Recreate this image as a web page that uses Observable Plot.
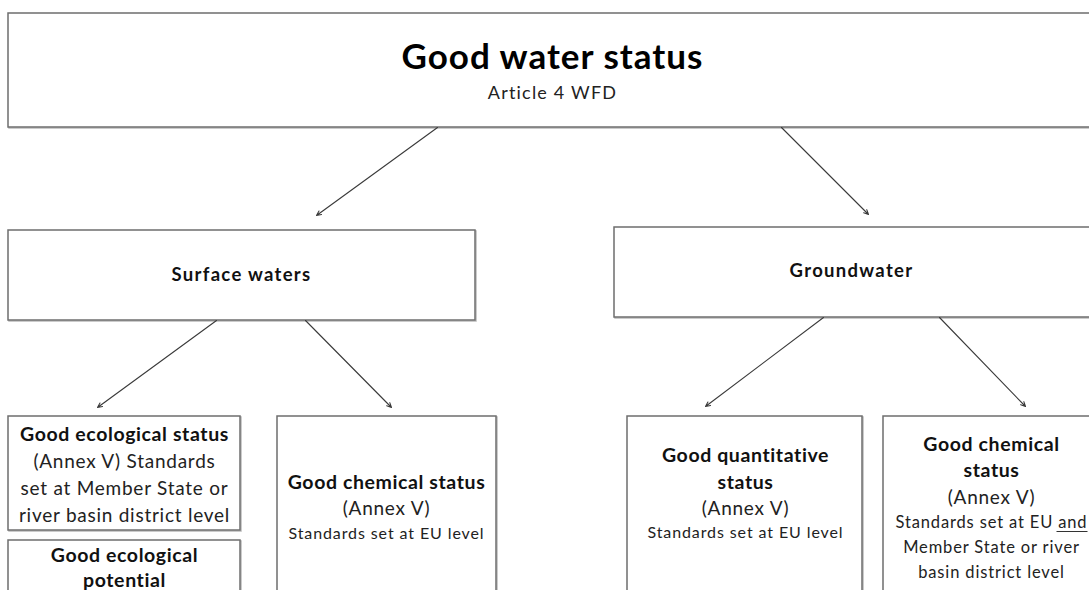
<!DOCTYPE html>
<html><head><meta charset="utf-8">
<script src="https://cdn.jsdelivr.net/npm/d3@7"></script>
<script src="https://cdn.jsdelivr.net/npm/@observablehq/plot@0.6"></script>
<style>
body{margin:0;background:#fff;overflow:hidden}
.t-title text{letter-spacing:1px}
.t-subtitle text{letter-spacing:1.2px}
.t-head text{letter-spacing:1.3px}
.t-bold text{letter-spacing:0.6px}
.t-normal text{letter-spacing:0.75px}
.t-small text{letter-spacing:0.9px}
.t-mid text{letter-spacing:0.85px}
</style>
</head><body><div id="chart"></div>
<script>
// Boxes of the diagram (diagram units = pixels of the reference)
const boxNames  = ["Good water status","Surface waters","Groundwater","Good ecological status","Good ecological potential","Good chemical status (surface)","Good quantitative status","Good chemical status (groundwater)"];
const boxLeft   = [8, 8, 614, 8, 8, 277, 627, 883];
const boxRight  = [1100, 475, 1100, 240, 240, 496, 862, 1100];
const boxTop    = [13, 230, 227, 416, 540, 416, 416, 416];
const boxBottom = [127, 320, 317, 530, 600, 600, 600, 600];

// Arrows between boxes
const arrowFromX = [437, 781, 216, 305, 823, 939];
const arrowFromY = [127, 127, 320, 320, 317, 317];
const arrowToX   = [316, 868, 97, 391, 705, 1025];
const arrowToY   = [215, 214, 407, 407, 406, 406];

// Text lines
const lineText = [
  "Good water status", "Article 4 WFD",
  "Surface waters", "Groundwater",
  "Good ecological status", "(Annex V) Standards", "set at Member State or", "river basin district level",
  "Good ecological", "potential",
  "Good chemical status", "(Annex V)", "Standards set at EU level",
  "Good quantitative", "status", "(Annex V)", "Standards set at EU level",
  "Good chemical", "status", "(Annex V)", "Standards set at EU and", "Member State or river", "basin district level"
];
const lineX = [
  552, 552,
  241, 851,
  124, 124, 124, 124,
  124, 124,
  386, 386, 386,
  745, 745, 745, 745,
  991, 991, 991, 991, 991, 991
];
const lineY = [
  57, 93,
  275, 271,
  434, 461, 488, 515,
  555, 580,
  482, 508, 533,
  455, 482, 508, 532,
  444, 470, 497, 522, 547, 572
];
const lineKind = [
  "title", "subtitle",
  "head", "head",
  "bold", "normal", "normal", "normal",
  "bold", "bold",
  "bold", "normal", "small",
  "bold", "bold", "normal", "small",
  "bold", "bold", "normal", "mid", "mid", "mid"
];
// underlined word "and"
const underlineX1 = [1056];
const underlineX2 = [1087];
const underlineY  = [531];

const boxes = boxNames.map((name, i) => ({name, x1: boxLeft[i], x2: boxRight[i], y1: boxTop[i], y2: boxBottom[i]}));
const arrows = arrowFromX.map((x, i) => ({x1: x, y1: arrowFromY[i], x2: arrowToX[i], y2: arrowToY[i]}));
const lines = lineText.map((t, i) => ({text: t, x: lineX[i], y: lineY[i], kind: lineKind[i]}));
const underlines = underlineX1.map((x, i) => ({x1: x, x2: underlineX2[i], y: underlineY[i]}));

const font = "Lato, 'Open Sans', sans-serif";
const styles = {
  title:    {fontSize: 35, fontWeight: "bold", fill: "#000"},
  subtitle: {fontSize: 18, fontWeight: "normal", fill: "#222"},
  head:     {fontSize: 18.5, fontWeight: "bold", fill: "#111"},
  bold:     {fontSize: 19.5, fontWeight: "bold", fill: "#111"},
  normal:   {fontSize: 19, fontWeight: "normal", fill: "#222"},
  small:    {fontSize: 16, fontWeight: "normal", fill: "#222"},
  mid:      {fontSize: 16.5, fontWeight: "normal", fill: "#222"}
};

const textMarks = Object.entries(styles).map(([k, s]) =>
  Plot.text(lines.filter(d => d.kind === k), {
    x: "x", y: "y", text: "text", textAnchor: "middle", className: "t-" + k,
    fontFamily: font, fontSize: s.fontSize, fontWeight: s.fontWeight, fill: s.fill
  })
);

const chart = Plot.plot({
  width: 1089, height: 590,
  margin: 0,
  x: {domain: [0, 1089], range: [0, 1089], axis: null},
  y: {domain: [0, 590], range: [0, 590], axis: null},
  style: {background: "#fff", overflow: "hidden"},
  marks: [
    Plot.rect(boxes, {x1: d => d.x1 + 1, x2: d => d.x2 + 1, y1: d => d.y1 + 1, y2: d => d.y2 + 1, fill: "none", stroke: "#bbb", strokeWidth: 1.5}),
    Plot.rect(boxes, {x1: "x1", x2: "x2", y1: "y1", y2: "y2", fill: "#fff", stroke: "#6e6e6e", strokeWidth: 1.5}),
    Plot.arrow(arrows, {x1: "x1", y1: "y1", x2: "x2", y2: "y2", stroke: "#3a3a3a", strokeWidth: 1.1, headLength: 7, headAngle: 50}),
    ...textMarks,
    Plot.link(underlines, {x1: "x1", x2: "x2", y1: "y", y2: "y", stroke: "#333", strokeWidth: 1})
  ]
});
document.getElementById("chart").appendChild(chart);
</script>
</body></html>
